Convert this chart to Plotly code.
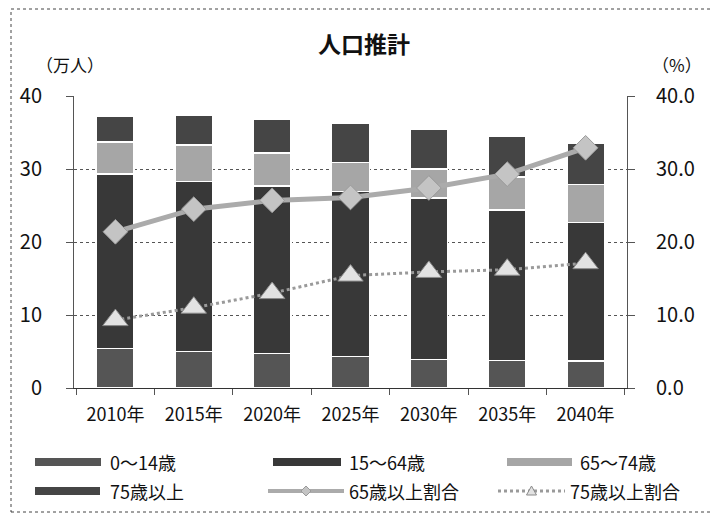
import plotly.graph_objects as go

years = ["2010年", "2015年", "2020年", "2025年", "2030年", "2035年", "2040年"]
age_0_14 = [5.4, 5.0, 4.75, 4.3, 3.9, 3.8, 3.7]
age_15_64 = [23.9, 23.3, 22.95, 22.6, 22.1, 20.6, 19.0]
age_65_74 = [4.4, 5.0, 4.5, 4.0, 4.0, 4.5, 5.2]
age_75_plus = [3.5, 4.0, 4.6, 5.4, 5.4, 5.6, 5.6]
ratio_65_plus = [21.4, 24.5, 25.7, 26.1, 27.4, 29.3, 32.9]
ratio_75_plus = [9.3, 11.0, 13.0, 15.4, 15.9, 16.2, 17.1]

series_names = ["0～14歳", "15～64歳", "65～74歳", "75歳以上", "65歳以上割合", "75歳以上割合"]

FONT = "Noto Sans CJK JP"
OFF = 8  # page body margin offset
W, H = 720 - OFF, 515 - OFF
L, R, T, B = 74, 627, 96, 388  # plot area in reference pixel coords

def px(x):
    return (x - L) / (R - L)

def py(y):
    return (B - y) / (B - T)

bar_colors = ["#555555", "#383838", "#a6a6a6", "#454545"]

fig = go.Figure()
for name, vals, col in zip(series_names[:4], [age_0_14, age_15_64, age_65_74, age_75_plus], bar_colors):
    fig.add_trace(go.Bar(
        x=years, y=vals, name=name,
        marker=dict(color=col, line=dict(color="white", width=1.5)),
        showlegend=False,
    ))

fig.add_trace(go.Scatter(
    x=years, y=ratio_65_plus, name=series_names[4], yaxis="y2", mode="lines+markers",
    line=dict(color="#ababab", width=5),
    marker=dict(symbol="diamond", size=19, color="#c4c4c4", line=dict(color="#9a9a9a", width=1)),
    showlegend=False,
))
fig.add_trace(go.Scatter(
    x=years, y=ratio_75_plus, name=series_names[5], yaxis="y2", mode="lines+markers",
    line=dict(color="#9a9a9a", width=3, dash="dot"),
    marker=dict(symbol="triangle-up", size=22, color="#e2e2e2", line=dict(color="#8a8a8a", width=1)),
    showlegend=False,
))

shapes = []
annotations = []

# outer dotted border
shapes.append(dict(type="rect", xref="paper", yref="paper",
                   x0=px(11), x1=px(715), y0=py(512), y1=py(9),
                   line=dict(color="#444444", width=1, dash="dot"), layer="below"))

# legend
ROW1, ROW2 = 462, 491
legend_items = [
    (35, 101, 108, ROW1, "bar", bar_colors[0], series_names[0]),
    (273, 341, 347, ROW1, "bar", bar_colors[1], series_names[1]),
    (507, 572, 578, ROW1, "bar", bar_colors[2], series_names[2]),
    (35, 100, 108, ROW2, "bar", bar_colors[3], series_names[3]),
    (268, 344, 347, ROW2, "line", "#ababab", series_names[4]),
    (498, 565, 568, ROW2, "dot", "#9a9a9a", series_names[5]),
]
for x0, x1, xt, yc, kind, col, name in legend_items:
    if kind == "bar":
        shapes.append(dict(type="rect", xref="paper", yref="paper",
                           x0=px(x0), x1=px(x1), y0=py(yc + 4), y1=py(yc - 4),
                           fillcolor=col, line=dict(width=0)))
    elif kind == "line":
        shapes.append(dict(type="line", xref="paper", yref="paper",
                           x0=px(x0), x1=px(x1), y0=py(yc), y1=py(yc),
                           line=dict(color=col, width=4)))
        cx = (x0 + x1) / 2
        shapes.append(dict(type="path", xref="paper", yref="paper",
                           path=f"M {px(cx-5)} {py(yc)} L {px(cx)} {py(yc-5)} L {px(cx+5)} {py(yc)} L {px(cx)} {py(yc+5)} Z",
                           fillcolor="#c4c4c4", line=dict(color="#9a9a9a", width=1)))
    else:
        shapes.append(dict(type="line", xref="paper", yref="paper",
                           x0=px(x0), x1=px(x1), y0=py(yc), y1=py(yc),
                           line=dict(color=col, width=3, dash="dot")))
        cx = (x0 + x1) / 2
        shapes.append(dict(type="path", xref="paper", yref="paper",
                           path=f"M {px(cx-5)} {py(yc+4)} L {px(cx)} {py(yc-5)} L {px(cx+5)} {py(yc+4)} Z",
                           fillcolor="#e2e2e2", line=dict(color="#8a8a8a", width=1)))
    annotations.append(dict(xref="paper", yref="paper", x=px(xt), y=py(yc),
                            xanchor="left", yanchor="middle", showarrow=False,
                            text=name, font=dict(family=FONT, size=18, color="#111111")))

annotations.append(dict(xref="paper", yref="paper", x=px(70), y=py(64),
                        xanchor="center", yanchor="middle", showarrow=False,
                        text="（万人）", font=dict(family=FONT, size=17, color="#111111")))
annotations.append(dict(xref="paper", yref="paper", x=px(677), y=py(64),
                        xanchor="center", yanchor="middle", showarrow=False,
                        text="（%）", font=dict(family=FONT, size=17, color="#111111")))

fig.update_layout(
    width=W, height=H,
    margin=dict(l=L - OFF, r=720 - R, t=T - OFF, b=515 - B),
    paper_bgcolor="white", plot_bgcolor="white",
    barmode="stack", bargap=0.52,
    title=dict(text="<b>人口推計</b>", x=(364 - OFF) / W, xanchor="center",
               y=1 - (45 - OFF) / H, yanchor="middle", yref="container",
               font=dict(family=FONT, size=23, color="#111111")),
    font=dict(family=FONT, color="#111111"),
    xaxis=dict(
        showgrid=False, showline=True, linecolor="#333333", linewidth=1,
        ticks="outside", tickson="boundaries", ticklen=6, tickcolor="#555555",
        ticklabelstandoff=10,
        tickfont=dict(family=FONT, size=18, color="#111111"),
    ),
    yaxis=dict(
        range=[0, 40], dtick=10, showgrid=True, gridcolor="#555555", griddash="dot", gridwidth=1,
        showline=True, linecolor="#555555", linewidth=1,
        ticks="outside", ticklen=7, tickcolor="#555555", ticklabelstandoff=20,
        tickfont=dict(family=FONT, size=20, color="#111111"),
        zeroline=False,
    ),
    yaxis2=dict(
        range=[0, 40], dtick=10, tickformat=".1f", overlaying="y", side="right",
        showgrid=False, showline=True, linecolor="#555555", linewidth=1,
        ticks="outside", ticklen=7, tickcolor="#555555", ticklabelstandoff=17,
        tickfont=dict(family=FONT, size=20, color="#111111"),
        zeroline=False,
    ),
    shapes=shapes,
    annotations=annotations,
)

fig.write_html("out.html")
